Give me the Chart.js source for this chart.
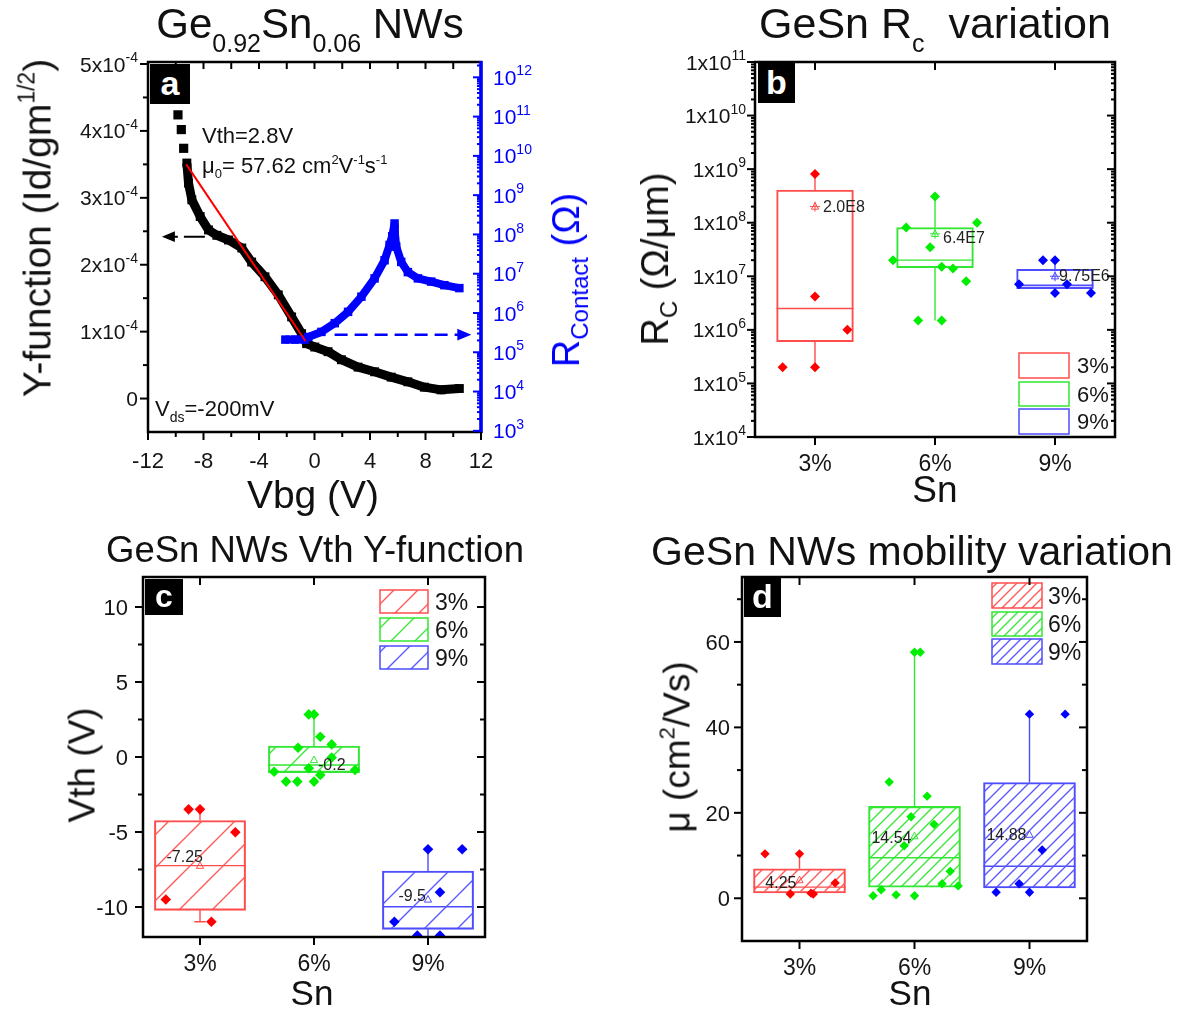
<!DOCTYPE html>
<html><head><meta charset="utf-8">
<script src="https://cdn.jsdelivr.net/npm/chart.js@4.4.1/dist/chart.umd.min.js"></script>
<style>
html,body{margin:0;padding:0;background:#fff;}
body{position:relative;width:1190px;height:1016px;overflow:hidden;font-family:"Liberation Sans",Arial,Helvetica,sans-serif;color:#111;}
canvas{position:absolute;left:0;top:0;}
.t{position:absolute;white-space:nowrap;line-height:1;}
.c{transform:translateX(-50%);}
.r{transform:translate(-50%,-50%) rotate(-90deg);}
.s{position:relative;vertical-align:baseline;line-height:0;}
.lb{position:absolute;background:#000;color:#fff;font-weight:bold;text-align:center;}
</style></head><body>
<canvas id="ca" width="1190" height="1016"></canvas>
<canvas id="cb" width="1190" height="1016"></canvas>
<canvas id="cc" width="1190" height="1016"></canvas>
<canvas id="cd" width="1190" height="1016"></canvas>

<!-- titles -->
<div class="t c" style="left:310px;top:3px;font-size:42px;">Ge<span class="s" style="font-size:25px;top:14px">0.92</span>Sn<span class="s" style="font-size:25px;top:14px">0.06</span>&nbsp;NWs</div>
<div class="t c" style="left:935px;top:2px;font-size:43px;">GeSn R<span class="s" style="font-size:25px;top:14px">c</span>&nbsp;&nbsp;variation</div>
<div class="t c" style="left:315px;top:532px;font-size:36.5px;">GeSn NWs Vth Y-function</div>
<div class="t c" style="left:912px;top:531px;font-size:41px;">GeSn NWs mobility variation</div>

<!-- axis titles -->
<div class="t r" style="left:37px;top:228px;font-size:39px;">Y-function (Id/gm<span class="s" style="font-size:23px;top:-16px">1/2</span>)</div>
<div class="t r" style="left:566px;top:280px;font-size:38px;color:#0000ff;">R<span class="s" style="font-size:24px;top:9px">Contact</span> (Ω)</div>
<div class="t c" style="left:313px;top:475px;font-size:39px;">Vbg (V)</div>

<div class="t r" style="left:655px;top:259px;font-size:38px;">R<span class="s" style="font-size:24px;top:9px">C</span> (Ω/μm)</div>
<div class="t c" style="left:935px;top:471px;font-size:37px;">Sn</div>

<div class="t r" style="left:82px;top:765px;font-size:37px;">Vth (V)</div>
<div class="t c" style="left:312px;top:975px;font-size:35px;">Sn</div>

<div class="t r" style="left:677px;top:747px;font-size:37px;">μ (cm<span class="s" style="font-size:22px;top:-15px">2</span>/Vs)</div>
<div class="t c" style="left:910px;top:975px;font-size:35px;">Sn</div>

<!-- annotations panel a -->
<div class="t" style="left:202px;top:125px;font-size:22px;">Vth=2.8V</div>
<div class="t" style="left:202px;top:155px;font-size:22px;">μ<span class="s" style="font-size:13px;top:5px">0</span>= 57.62 cm<span class="s" style="font-size:13px;top:-9px">2</span>V<span class="s" style="font-size:13px;top:-9px">-1</span>s<span class="s" style="font-size:13px;top:-9px">-1</span></div>
<div class="t" style="left:155px;top:398px;font-size:22px;">V<span class="s" style="font-size:14px;top:6px">ds</span>=-200mV</div>

<!-- panel letters -->
<div class="lb" style="left:150px;top:64px;width:40px;height:40px;line-height:38px;font-size:34px;">a</div>
<div class="lb" style="left:758px;top:63px;width:37px;height:40px;line-height:38px;font-size:34px;">b</div>
<div class="lb" style="left:145px;top:579px;width:38px;height:36px;line-height:35px;font-size:32px;">c</div>
<div class="lb" style="left:744px;top:578px;width:37px;height:39px;line-height:37px;font-size:34px;">d</div>

<script>
// ================= DATA =================
// Panel a : Y-function and contact resistance vs back-gate voltage
const vbgSparse = [-9.84, -9.6, -9.43];
const yfSparse  = [4.24e-4, 4.02e-4, 3.74e-4];
const vbgYf = [-9.2,-9.08,-8.84,-8.24,-7.64,-7.04,-6.2,-5.24,-4.53,-3.57,-2.61,-1.65,-0.93,-0.57,0.02,0.98,1.94,3.14,4.33,5.53,6.73,7.92,9.12,10.44];
const yFunc = [3.52e-4,3.22e-4,2.97e-4,2.72e-4,2.52e-4,2.44e-4,2.37e-4,2.25e-4,2.04e-4,1.82e-4,1.55e-4,1.22e-4,0.97e-4,0.82e-4,0.77e-4,0.70e-4,0.58e-4,0.47e-4,0.40e-4,0.32e-4,0.25e-4,0.17e-4,0.13e-4,0.15e-4];
const vbgRc = [-2.1,-1.4,-0.7,-0.45,0.5,1.46,2.42,3.38,4.33,5.05,5.41,5.6,5.77,5.77,5.89,6.25,6.73,7.45,8.41,9.36,10.44];
const rContact = [2.1e5,2.1e5,2.1e5,2.45e5,3.3e5,5.5e5,1.07e6,2.6e6,7.6e6,2.2e7,5.4e7,9.0e7,1.9e8,1.3e8,4.9e7,2.0e7,1.1e7,7.6e6,6.3e6,5.1e6,4.3e6];
const fitVbg = [-9.24, -0.65];
const fitYf  = [3.50e-4, 0.86e-4];
const arrowLVbg = [-7.9, -11.0]; const arrowLYf = 2.42e-4;
const arrowRVbg = [1.45, 11.3];  const arrowRRc = 2.8e5;
const vbgTicks = [-12,-8,-4,0,4,8,12];
const vbgMinor = [-10,-6,-2,2,6,10];
const vbgTop = [-10,-8,-6,-4,-2,0,2,4,6,8,10];
const yfTicks = [0,1e-4,2e-4,3e-4,4e-4,5e-4];
const yfMinor = [0.5e-4,1.5e-4,2.5e-4,3.5e-4,4.5e-4];
const rcExpTicks = [3,4,5,6,7,8,9,10,11,12];

// Sn categories
const snCats = ['3%','6%','9%'];
const catPos = [1,2,3];

// Panel b : contact resistance box plot (Ω/μm)
const rcQ1  = [6.0e5, 1.45e7, 5.9e6];
const rcMed = [2.5e6, 2.0e7, 6.8e6];
const rcQ3  = [4.07e8, 8.1e7, 1.35e7];
const rcLo  = [2.0e5, 1.5e6, 4.9e6];
const rcHi  = [8.1e8, 3.1e8, 2.0e7];
const rcMean = [2.0e8, 6.2e7, 1.0e7];
const rcMeanTxt = ['2.0E8','6.4E7','9.75E6'];
const rc3 = [8.1e8, 4.2e6, 1.0e6, 2.0e5, 2.0e5];
const rc3Off = [0, 0, 0.27, -0.27, 0];
const rc6 = [3.1e8, 1.0e8, 8.1e7, 3.5e7, 2.0e7, 1.5e7, 1.4e7, 8.1e6, 1.5e6, 1.5e6];
const rc6Off = [0, 0.35, -0.24, -0.04, -0.35, 0.056, 0.15, 0.26, -0.14, 0.056];
const rc9 = [2.0e7, 2.0e7, 7.1e6, 7.1e6, 4.9e6, 4.9e6];
const rc9Off = [-0.1, 0, -0.3, 0.1, 0, 0.3];
const rcExpAxis = [4,5,6,7,8,9,10,11];

// Panel c : threshold voltage (V)
const vthQ1  = [-10.22, -1.04, -11.49];
const vthMed = [-7.24, -0.53, -9.98];
const vthQ3  = [-4.24, 0.73, -7.6];
const vthLo  = [-10.98, -1.04, -12.5];
const vthHi  = [-3.49, 2.84, -6.15];
const vthMean = [-7.25, -0.2, -9.5];
const vthMeanTxt = ['-7.25','-0.2','-9.5'];
const vth3 = [-3.49, -3.49, -5.02, -9.5, -10.98];
const vth3Off = [-0.1, 0, 0.31, -0.3, 0.1];
const vth6 = [2.84, 2.84, 1.35, 0.84, 0.62, -0.04, -0.75, -1.2, -0.98, -0.87, -1.64, -1.64, -1.64];
const vth6Off = [-0.046, 0, 0.055, 0.155, -0.14, 0.155, -0.046, 0.055, -0.35, 0.36, -0.245, -0.146, 0];
const vth9 = [-6.15, -6.15, -9.02, -10.98, -11.9, -11.9];
const vth9Off = [0, 0.3, 0.105, -0.295, -0.094, 0.105];
const vthTicks = [-10,-5,0,5,10];
const vthMinor = [-7.5,-2.5,2.5,7.5];

// Panel d : mobility (cm2/Vs)
const muQ1  = [1.26, 2.6, 2.4];
const muMed = [2.6, 9.5, 7.5];
const muQ3  = [6.9, 21.5, 27.1];
const muLo  = [1.26, 2.6, 2.4];
const muHi  = [10.4, 57.6, 43.1];
const muMean = [4.25, 14.54, 14.88];
const muMeanTxt = ['4.25','14.54','14.88'];
const mu3 = [10.4, 10.4, 3.6, 1.0, 1.2, 1.0];
const mu3Off = [-0.3, 0, 0.31, -0.08, 0.1, 0.12];
const mu6 = [57.6, 57.6, 27.2, 23.9, 19.1, 17.3, 12.3, 6.3, 3.4, 2.9, 2.0, 0.6, 0.8, 0.6];
const mu6Off = [0, 0.05, -0.22, 0.11, -0.03, 0.17, -0.09, 0.31, 0.24, 0.38, -0.29, -0.36, -0.16, 0];
const mu9 = [43.1, 43.1, 11.3, 3.4, 1.4, 1.4];
const mu9Off = [0, 0.31, 0.11, -0.09, -0.29, 0];
const muTicks = [0,20,40,60];
const muMinor = [10,30,50,70];

// ================= HELPERS =================
const FONT = '"Liberation Sans", Arial, Helvetica, sans-serif';
Chart.defaults.font.family = FONT;
const W = 1190, H = 1016;
const TXT = '#151515';
const FIG = {};   // per-canvas drawing configuration (kept outside Chart.js option resolver)

function drawRich(ctx, parts, x, yc, align, F, color) {
  const sz = p => p[1] ? Math.round(F * 0.66) : F;
  let w = 0;
  for (const p of parts) { ctx.font = sz(p) + 'px ' + FONT; w += ctx.measureText(p[0]).width; }
  let cx = align === 'right' ? x - w : (align === 'center' ? x - w / 2 : x);
  const base = yc + 0.36 * F;
  ctx.fillStyle = color; ctx.textAlign = 'left'; ctx.textBaseline = 'alphabetic';
  for (const p of parts) {
    ctx.font = sz(p) + 'px ' + FONT;
    const dy = p[1] === 1 ? -0.45 * F : (p[1] === -1 ? 0.28 * F : 0);
    ctx.fillText(p[0], cx, base + dy);
    cx += ctx.measureText(p[0]).width;
  }
}

function hatch(ctx, color, s, lw) {
  const c = document.createElement('canvas'); c.width = s; c.height = s;
  const g = c.getContext('2d');
  g.strokeStyle = color; g.lineWidth = lw;
  g.beginPath();
  g.moveTo(0, s); g.lineTo(s, 0);
  g.moveTo(-s / 2, s / 2); g.lineTo(s / 2, -s / 2);
  g.moveTo(s / 2, s * 1.5); g.lineTo(s * 1.5, s / 2);
  g.stroke();
  return ctx.createPattern(c, 'repeat');
}

function drawAxis(chart, ax) {
  const ctx = chart.ctx, a = chart.chartArea, sc = chart.scales[ax.scale];
  ctx.save();
  ctx.strokeStyle = ax.color || '#000'; ctx.lineWidth = ax.width || 2;
  const s = ax.dir === 'out' ? 1 : -1;
  const tick = (v, len) => {
    const p = sc.getPixelForValue(v);
    ctx.beginPath();
    if (ax.side === 'bottom') { ctx.moveTo(p, a.bottom); ctx.lineTo(p, a.bottom + s * len); }
    if (ax.side === 'top')    { ctx.moveTo(p, a.top); ctx.lineTo(p, a.top - s * len); }
    if (ax.side === 'left')   { ctx.moveTo(a.left, p); ctx.lineTo(a.left - s * len, p); }
    if (ax.side === 'right')  { ctx.moveTo(a.right, p); ctx.lineTo(a.right + s * len, p); }
    ctx.stroke();
  };
  (ax.minor || []).forEach(v => tick(v, ax.minorLen || 4));
  (ax.major || []).forEach(v => tick(v, ax.majorLen || 8));
  if (ax.label) {
    (ax.major || []).forEach((v, i) => {
      const parts = ax.label(v, i); if (!parts) return;
      const p = sc.getPixelForValue(v);
      const col = ax.labelColor || TXT;
      if (ax.side === 'bottom') drawRich(ctx, parts, p, a.bottom + ax.labelOff, 'center', ax.font, col);
      if (ax.side === 'left') drawRich(ctx, parts, a.left - ax.labelOff, p, 'right', ax.font, col);
      if (ax.side === 'right') drawRich(ctx, parts, a.right + ax.labelOff, p, 'left', ax.font, col);
    });
  }
  ctx.restore();
}

function drawBoxParts(chart, B) {
  const ctx = chart.ctx, a = chart.chartArea, xs = chart.scales.x, ys = chart.scales.y;
  ctx.save();
  ctx.beginPath(); ctx.rect(a.left, a.top, a.width, a.height); ctx.clip();
  ctx.lineWidth = B.lw;
  B.q1.forEach((_, i) => {
    const c = catPos[i];
    const px = xs.getPixelForValue(c);
    const Y = v => ys.getPixelForValue(v);
    ctx.strokeStyle = B.colors[i];
    ctx.beginPath();
    ctx.moveTo(px, Y(B.q3[i])); ctx.lineTo(px, Y(B.hi[i]));
    ctx.moveTo(px, Y(B.q1[i])); ctx.lineTo(px, Y(B.lo[i]));
    ctx.moveTo(xs.getPixelForValue(c - B.halfW), Y(B.med[i]));
    ctx.lineTo(xs.getPixelForValue(c + B.halfW), Y(B.med[i]));
    if (B.capLo && B.capLo[i]) {
      ctx.moveTo(xs.getPixelForValue(c - B.capLo[i]), Y(B.lo[i]));
      ctx.lineTo(xs.getPixelForValue(c + B.capLo[i]), Y(B.lo[i]));
    }
    ctx.stroke();
  });
  ctx.restore();
}

function drawMeans(chart, M) {
  const ctx = chart.ctx, xs = chart.scales.x, ys = chart.scales.y;
  ctx.save();
  M.vals.forEach((v, i) => {
    const px = xs.getPixelForValue(catPos[i]), py = ys.getPixelForValue(v);
    ctx.strokeStyle = M.colors[i]; ctx.lineWidth = 1;
    ctx.beginPath();
    ctx.moveTo(px, py - 4); ctx.lineTo(px + 3.6, py + 2.6); ctx.lineTo(px - 3.6, py + 2.6); ctx.closePath();
    if (M.cross) { ctx.moveTo(px - 5, py); ctx.lineTo(px + 5, py); ctx.moveTo(px, py - 5); ctx.lineTo(px, py + 5); }
    ctx.stroke();
    const right = M.side[i] === 'right';
    drawRich(ctx, [[M.text[i], 0]], px + M.dx[i], py + M.dy[i], right ? 'left' : 'right', 16, '#222');
  });
  ctx.restore();
}

function drawLegend(ctx, L) {
  ctx.save();
  L.items.forEach((it, i) => {
    const [x, y, w, h] = it.rect;
    ctx.fillStyle = '#ffffff'; ctx.fillRect(x, y, w, h);
    if (it.fill) { ctx.fillStyle = it.fill; ctx.fillRect(x, y, w, h); }
    ctx.strokeStyle = it.color; ctx.lineWidth = 1.5; ctx.strokeRect(x, y, w, h);
    drawRich(ctx, [[snCats[i], 0]], L.tx, y + h / 2, 'left', L.font, TXT);
  });
  ctx.restore();
}

function dashedArrow(ctx, x0, y0, x1, y1, color, lw, dash, head) {
  ctx.save(); ctx.strokeStyle = color; ctx.fillStyle = color; ctx.lineWidth = lw;
  const dir = Math.sign(x1 - x0);
  ctx.setLineDash(dash);
  ctx.beginPath(); ctx.moveTo(x0, y0); ctx.lineTo(x1 - dir * head * 0.8, y1); ctx.stroke();
  ctx.setLineDash([]);
  ctx.beginPath(); ctx.moveTo(x1, y1); ctx.lineTo(x1 - dir * head, y1 - head * 0.42); ctx.lineTo(x1 - dir * head, y1 + head * 0.42); ctx.closePath(); ctx.fill();
  ctx.restore();
}

const figPlugin = {
  id: 'fig',
  beforeDatasetsDraw(chart) { const o = FIG[chart.canvas.id]; if (o && o.boxes) drawBoxParts(chart, o.boxes); },
  afterDatasetsDraw(chart) {
    const o = FIG[chart.canvas.id]; if (!o) return;
    const ctx = chart.ctx, a = chart.chartArea;
    if (o.extra) o.extra(chart);
    if (o.means) drawMeans(chart, o.means);
    if (o.legend) drawLegend(ctx, o.legend);
    ctx.save();
    ctx.strokeStyle = '#000'; ctx.lineWidth = 2.5;
    ctx.strokeRect(a.left, a.top, a.width, a.height);
    if (o.rightLine) {
      ctx.strokeStyle = o.rightLine.color; ctx.lineWidth = o.rightLine.width;
      ctx.beginPath(); ctx.moveTo(a.right, a.top - 1); ctx.lineTo(a.right, a.bottom + 1); ctx.stroke();
    }
    ctx.restore();
    (o.axes || []).forEach(ax => drawAxis(chart, ax));
  }
};

function pad(L, T, R, B) { return { left: L, top: T, right: W - R, bottom: H - B }; }
const baseOpts = { responsive: false, animation: false, events: [], devicePixelRatio: 1 };
const noPlug = { legend: { display: false }, tooltip: { enabled: false } };
function logMinor(e0, e1, maxV) {
  const out = [];
  for (let e = e0; e <= e1; e++) for (let k = 2; k <= 9; k++) { const v = k * Math.pow(10, e); if (v < maxV) out.push(v); }
  return out;
}
const catLabel = (v, i) => [[snCats[i], 0]];
const ptC = ['#ff0000', '#00ee00', '#0000ff'];
const boxC = ['#ff4d4d', '#33e633', '#4d4dff'];
const hatC = ['#ff5a5a', '#3ce63c', '#5a5aff'];

// ================= PANEL A =================
(function () {
  const rMax = Math.pow(10, 12.39);
  FIG.ca = {
    rightLine: { color: '#0000ff', width: 3.5 },
    extra(chart) {
      const ctx = chart.ctx, xs = chart.scales.x, ys = chart.scales.y, yr = chart.scales.yR;
      dashedArrow(ctx, xs.getPixelForValue(arrowLVbg[0]), ys.getPixelForValue(arrowLYf),
        xs.getPixelForValue(arrowLVbg[1]), ys.getPixelForValue(arrowLYf), '#000', 2, [21, 6], 13);
      dashedArrow(ctx, xs.getPixelForValue(arrowRVbg[0]), yr.getPixelForValue(arrowRRc),
        xs.getPixelForValue(arrowRVbg[1]), yr.getPixelForValue(arrowRRc), '#0000ff', 2.5, [13, 7], 14);
    },
    axes: [
      { scale: 'x', side: 'bottom', dir: 'out', major: vbgTicks, minor: vbgMinor, majorLen: 8, minorLen: 5,
        label: v => [[String(v), 0]], labelOff: 28, font: 22 },
      { scale: 'x', side: 'top', dir: 'in', major: vbgTop, majorLen: 7 },
      { scale: 'y', side: 'left', dir: 'out', major: yfTicks, minor: yfMinor, majorLen: 8, minorLen: 5,
        label: v => Math.abs(v) < 1e-9 ? [['0', 0]] : [[Math.round(v / 1e-4) + 'x10', 0], ['-4', 1]], labelOff: 10, font: 21 },
      { scale: 'yR', side: 'right', dir: 'in', major: rcExpTicks.map(e => Math.pow(10, e)), minor: logMinor(3, 12, rMax),
        majorLen: 8, minorLen: 4, color: '#0000ff', width: 2,
        label: (v, i) => [['10', 0], [String(rcExpTicks[i]), 1]], labelOff: 12, font: 21, labelColor: '#0000ff' }
    ]
  };
  new Chart(document.getElementById('ca'), {
    type: 'line',
    data: { datasets: [
      { data: fitVbg.map((v, i) => ({ x: v, y: fitYf[i] })), yAxisID: 'y', borderColor: '#ff0000', borderWidth: 2, pointRadius: 0, order: 0 },
      { data: vbgRc.map((v, i) => ({ x: v, y: rContact[i] })), yAxisID: 'yR', borderColor: '#0000ff', borderWidth: 8, borderJoinStyle: 'bevel',
        pointStyle: 'rect', pointRadius: 6, pointBackgroundColor: '#0000ff', pointBorderWidth: 0, order: 1 },
      { data: vbgYf.map((v, i) => ({ x: v, y: yFunc[i] })), yAxisID: 'y', borderColor: '#000', borderWidth: 9, borderJoinStyle: 'bevel',
        pointStyle: 'rect', pointRadius: 6.3, pointBackgroundColor: '#000', pointBorderWidth: 0, order: 2 },
      { data: vbgSparse.map((v, i) => ({ x: v, y: yfSparse[i] })), yAxisID: 'y', showLine: false, pointStyle: 'rect', pointRadius: 6.5, pointBackgroundColor: '#000', pointBorderWidth: 0, order: 2 }
    ]},
    options: Object.assign({}, baseOpts, {
      layout: { padding: pad(148, 62, 481, 432) },
      scales: {
        x: { type: 'linear', min: -12, max: 12, display: false },
        y: { type: 'linear', min: -0.5e-4, max: 5.03e-4, display: false },
        yR: { type: 'logarithmic', position: 'right', min: Math.pow(10, 2.97), max: rMax, display: false }
      },
      plugins: noPlug
    }),
    plugins: [figPlugin]
  });
})();

// ================= PANEL B =================
(function () {
  const L = 755, R = 1115;
  const unit = (R - L) / 3;
  const pts = (vals, offs, i) => ({ type: 'line', showLine: false, data: vals.map((v, k) => ({ x: catPos[i] + offs[k], y: v })),
    pointStyle: 'rectRot', pointRadius: 5, pointBackgroundColor: ptC[i], pointBorderWidth: 0, order: 0 });
  const box = i => ({ type: 'bar', data: [{ x: catPos[i], y: [rcQ1[i], rcQ3[i]] }], backgroundColor: 'rgba(0,0,0,0)',
    borderColor: boxC[i], borderWidth: 1.4, borderSkipped: false, grouped: false, barThickness: 0.64 * unit, order: 5 });
  const yMaj = rcExpAxis.map(e => Math.pow(10, e)), yMin = logMinor(4, 10, 1e11);
  FIG.cb = {
    boxes: { q1: rcQ1, q3: rcQ3, med: rcMed, lo: rcLo, hi: rcHi, halfW: 0.32, colors: boxC, lw: 1.4 },
    means: { vals: rcMean, text: rcMeanTxt, colors: boxC, cross: true, side: ['right', 'right', 'right'], dx: [8, 8, 4], dy: [0, 3, -1] },
    legend: { tx: 1077, font: 22, items: [
      { rect: [1019, 353, 50, 25], color: boxC[0] }, { rect: [1019, 382, 50, 24], color: boxC[1] }, { rect: [1019, 409, 50, 25], color: boxC[2] } ] },
    axes: [
      { scale: 'x', side: 'bottom', dir: 'out', major: catPos, majorLen: 8, label: catLabel, labelOff: 26, font: 23 },
      { scale: 'x', side: 'top', dir: 'in', major: catPos, majorLen: 8 },
      { scale: 'y', side: 'left', dir: 'out', major: yMaj, minor: yMin, majorLen: 8, minorLen: 4,
        label: (v, i) => [['1x10', 0], [String(rcExpAxis[i]), 1]], labelOff: 9, font: 21 },
      { scale: 'y', side: 'right', dir: 'in', major: yMaj, minor: yMin, majorLen: 8, minorLen: 4 }
    ]
  };
  new Chart(document.getElementById('cb'), {
    type: 'bar',
    data: { datasets: [pts(rc3, rc3Off, 0), pts(rc6, rc6Off, 1), pts(rc9, rc9Off, 2), box(0), box(1), box(2)] },
    options: Object.assign({}, baseOpts, {
      layout: { padding: pad(L, 62, R, 437) },
      scales: {
        x: { type: 'linear', min: 0.5, max: 3.5, offset: false, display: false },
        y: { type: 'logarithmic', min: 1e4, max: 1e11, display: false }
      },
      plugins: noPlug
    }),
    plugins: [figPlugin]
  });
})();

// ================= PANEL C =================
(function () {
  const L = 143, R = 485;
  const unit = (R - L) / 3;
  const ctx0 = document.getElementById('cc').getContext('2d');
  const pts = (vals, offs, i) => ({ type: 'line', showLine: false, clip: 0, data: vals.map((v, k) => ({ x: catPos[i] + offs[k], y: v })),
    pointStyle: 'rectRot', pointRadius: 5.3, pointBackgroundColor: ptC[i], pointBorderWidth: 0, order: 0 });
  const box = i => ({ type: 'bar', clip: 0, data: [{ x: catPos[i], y: [vthQ1[i], vthQ3[i]] }], backgroundColor: hatch(ctx0, hatC[i], 33, 1.4),
    borderColor: boxC[i], borderWidth: 1.4, borderSkipped: false, grouped: false, barThickness: 0.8 * unit, order: 5 });
  FIG.cc = {
    boxes: { q1: vthQ1, q3: vthQ3, med: vthMed, lo: vthLo, hi: vthHi, halfW: 0.4, colors: boxC, lw: 1.4, capLo: [0.05, 0, 0] },
    means: { vals: vthMean, text: vthMeanTxt, colors: boxC, side: ['left', 'right', 'left'], dx: [3, 4, -2], dy: [-10, 4, -4] },
    legend: { tx: 435, font: 23, items: [
      { rect: [380, 590, 48, 23], color: boxC[0], fill: hatch(ctx0, hatC[0], 24, 1.4) },
      { rect: [380, 618, 48, 23], color: boxC[1], fill: hatch(ctx0, hatC[1], 24, 1.4) },
      { rect: [380, 646, 48, 23], color: boxC[2], fill: hatch(ctx0, hatC[2], 24, 1.4) } ] },
    axes: [
      { scale: 'x', side: 'bottom', dir: 'out', major: catPos, majorLen: 8, label: catLabel, labelOff: 26, font: 23 },
      { scale: 'x', side: 'top', dir: 'in', major: catPos, majorLen: 8 },
      { scale: 'y', side: 'left', dir: 'out', major: vthTicks, minor: vthMinor, majorLen: 8, minorLen: 5,
        label: v => [[String(v), 0]], labelOff: 15, font: 22 },
      { scale: 'y', side: 'right', dir: 'in', major: vthTicks, minor: vthMinor, majorLen: 8, minorLen: 5 }
    ]
  };
  new Chart(document.getElementById('cc'), {
    type: 'bar',
    data: { datasets: [pts(vth3, vth3Off, 0), pts(vth6, vth6Off, 1), pts(vth9, vth9Off, 2), box(0), box(1), box(2)] },
    options: Object.assign({}, baseOpts, {
      layout: { padding: pad(L, 577, R, 937) },
      scales: {
        x: { type: 'linear', min: 0.5, max: 3.5, offset: false, display: false },
        y: { type: 'linear', min: -12, max: 12, display: false }
      },
      plugins: noPlug
    }),
    plugins: [figPlugin]
  });
})();

// ================= PANEL D =================
(function () {
  const L = 742, R = 1087;
  const unit = (R - L) / 3;
  const ctx0 = document.getElementById('cd').getContext('2d');
  const pts = (vals, offs, i) => ({ type: 'line', showLine: false, data: vals.map((v, k) => ({ x: catPos[i] + offs[k], y: v })),
    pointStyle: 'rectRot', pointRadius: 4.7, pointBackgroundColor: ptC[i], pointBorderWidth: 0, order: 0 });
  const box = i => ({ type: 'bar', data: [{ x: catPos[i], y: [muQ1[i], muQ3[i]] }], backgroundColor: hatch(ctx0, hatC[i], 12, 1.4),
    borderColor: boxC[i], borderWidth: 1.4, borderSkipped: false, grouped: false, barThickness: 0.8 * unit, order: 5 });
  FIG.cd = {
    boxes: { q1: muQ1, q3: muQ3, med: muMed, lo: muLo, hi: muHi, halfW: 0.4, colors: boxC, lw: 1.4 },
    means: { vals: muMean, text: muMeanTxt, colors: boxC, side: ['left', 'left', 'left'], dx: [-3, -3, -3], dy: [2, 1, 0] },
    legend: { tx: 1048, font: 23, items: [
      { rect: [992, 583, 50, 25], color: boxC[0], fill: hatch(ctx0, hatC[0], 10, 1.4) },
      { rect: [992, 612, 50, 24], color: boxC[1], fill: hatch(ctx0, hatC[1], 10, 1.4) },
      { rect: [992, 639, 50, 25], color: boxC[2], fill: hatch(ctx0, hatC[2], 10, 1.4) } ] },
    axes: [
      { scale: 'x', side: 'bottom', dir: 'out', major: catPos, majorLen: 8, label: catLabel, labelOff: 26, font: 23 },
      { scale: 'x', side: 'top', dir: 'in', major: catPos, majorLen: 8 },
      { scale: 'y', side: 'left', dir: 'out', major: muTicks, minor: muMinor, majorLen: 8, minorLen: 5,
        label: v => [[String(v), 0]], labelOff: 12, font: 22 },
      { scale: 'y', side: 'right', dir: 'in', major: muTicks, minor: muMinor, majorLen: 8, minorLen: 5 }
    ]
  };
  new Chart(document.getElementById('cd'), {
    type: 'bar',
    data: { datasets: [pts(mu3, mu3Off, 0), pts(mu6, mu6Off, 1), pts(mu9, mu9Off, 2), box(0), box(1), box(2)] },
    options: Object.assign({}, baseOpts, {
      layout: { padding: pad(L, 577, R, 941) },
      scales: {
        x: { type: 'linear', min: 0.5, max: 3.5, offset: false, display: false },
        y: { type: 'linear', min: -10, max: 75.2, display: false }
      },
      plugins: noPlug
    }),
    plugins: [figPlugin]
  });
})();
</script>
</body></html>
